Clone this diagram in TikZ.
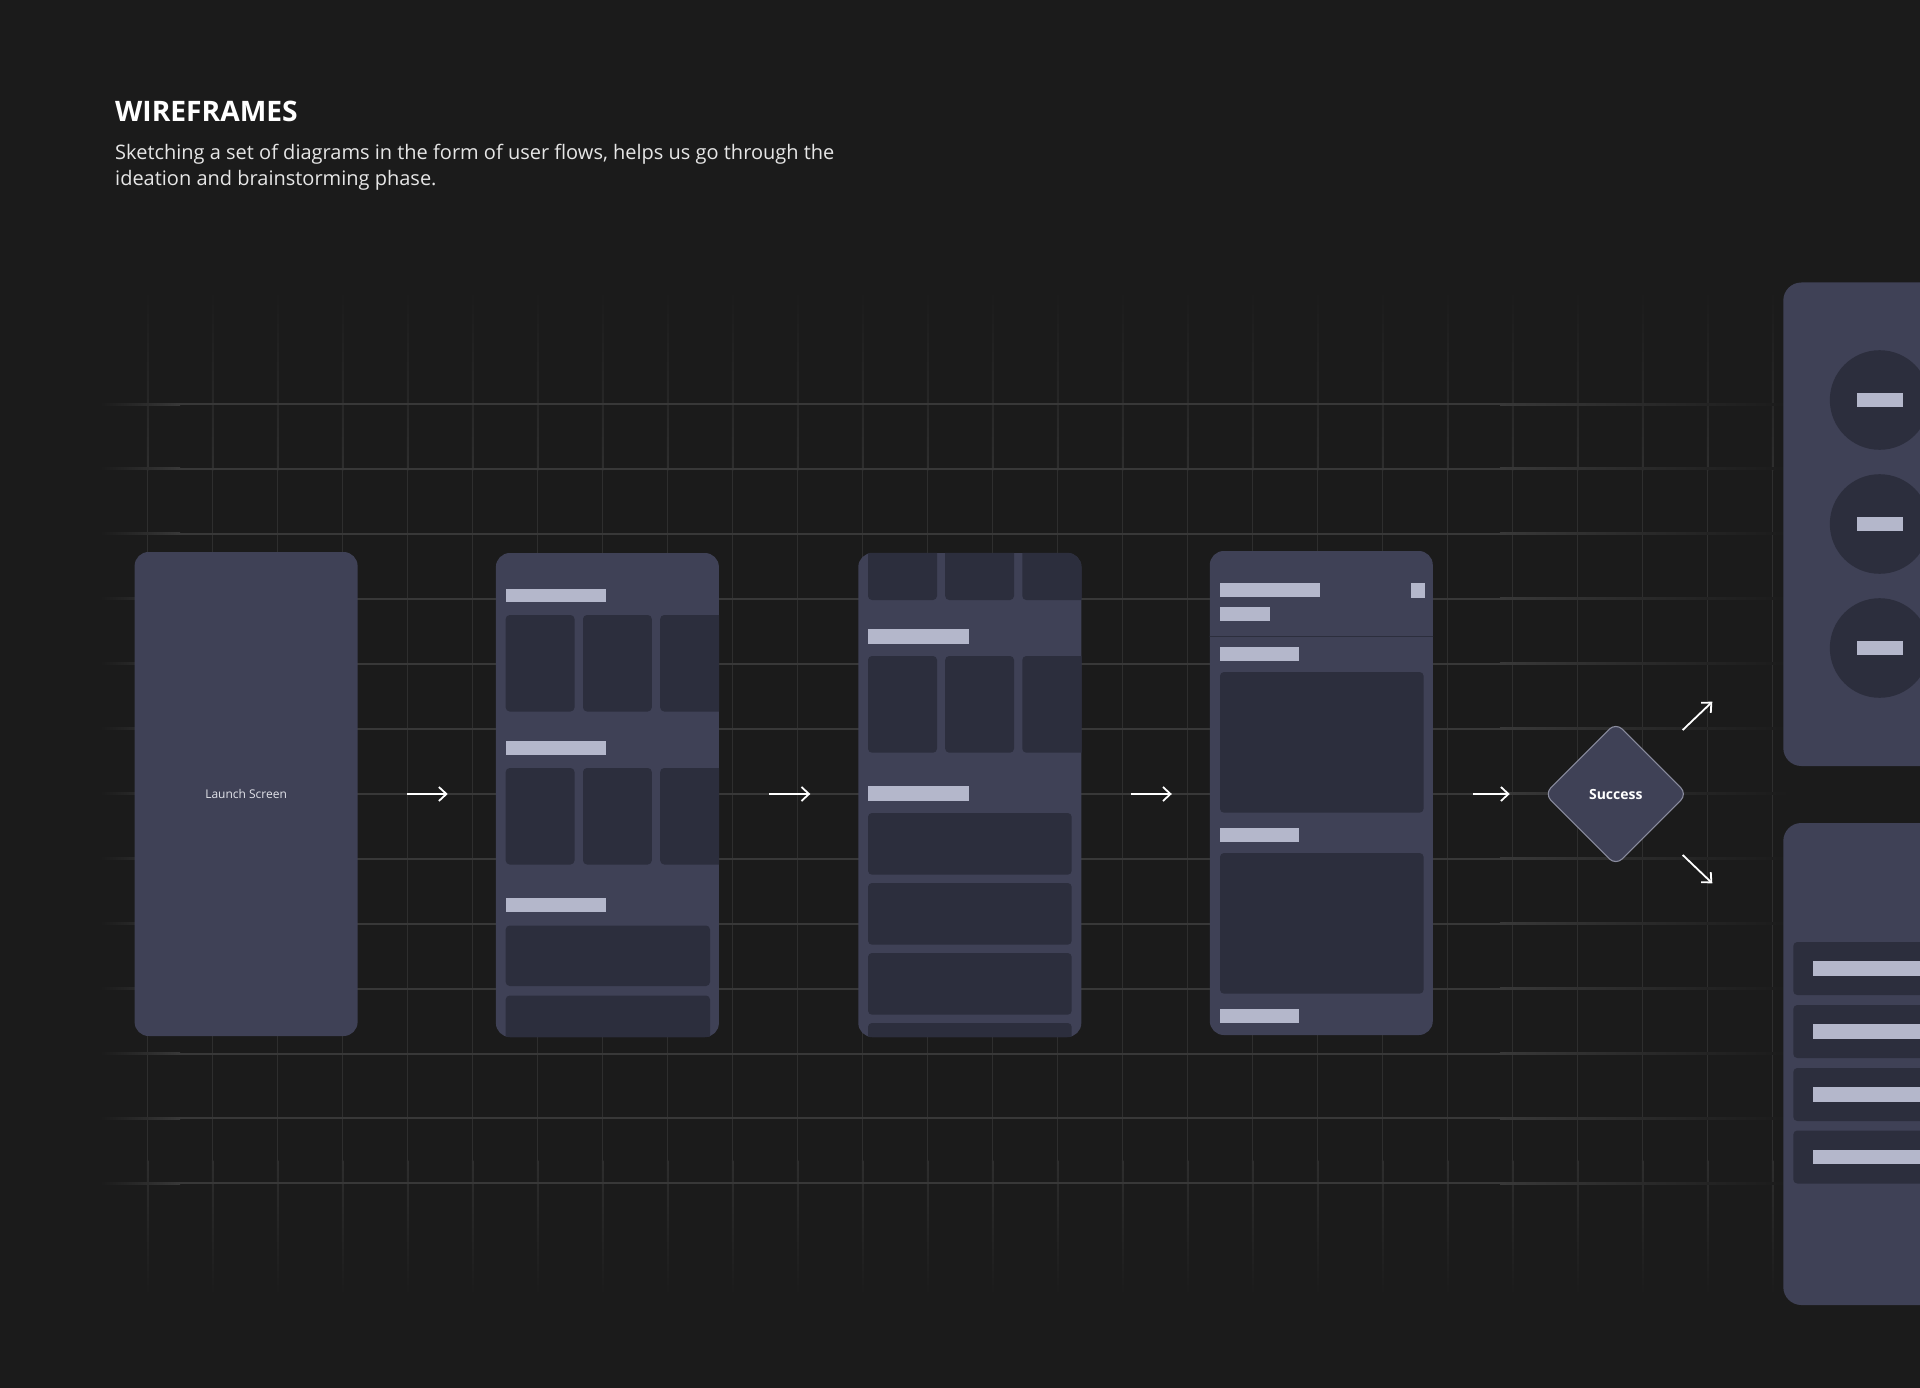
\documentclass[tikz,border=0pt]{standalone}
\usepackage{fontspec}
\setmainfont{Open Sans}
\usetikzlibrary{arrows.meta,shapes.geometric}
\definecolor{bgc}{HTML}{1B1B1B}
\definecolor{hgrid}{HTML}{383838}
\definecolor{vgrid}{HTML}{2E2E2E}
\definecolor{phonec}{HTML}{3F4156}
\definecolor{darkc}{HTML}{2C2E3D}
\definecolor{lightc}{HTML}{B4B7CB}
\definecolor{diamc}{HTML}{8A8C9E}
\definecolor{subc}{HTML}{E6E6E6}
\definecolor{launchc}{HTML}{E2E3EA}
\begin{document}
\begin{tikzpicture}[x=1pt,y=-1pt,
  phonebox/.style={rectangle, fill=phonec, rounded corners=14, minimum width=223, minimum height=484, inner sep=0},
  card/.style={fill=darkc, rounded corners=4},
  barc/.style={fill=lightc},
  flowarr/.style={draw=white, line width=1.8, -{Straight Barb[length=7.5pt,width=14pt]}},
  panelbox/.style={fill=phonec, rounded corners=18}
  ]
\useasboundingbox (0,0) rectangle (1920,1388);
\clip (0,0) rectangle (1920,1388);
\fill[bgc] (0,0) rectangle (1920,1388);

% grid: vertical lines
\foreach \k in {0,...,25}{
  \pgfmathsetmacro\xx{147.6+65.0*\k}
  \shade[top color=bgc, bottom color=vgrid] (\xx-0.75,290) rectangle (\xx+0.75,470);
  \fill[vgrid] (\xx-0.75,470) rectangle (\xx+0.75,1160);
  \shade[top color=vgrid, bottom color=bgc] (\xx-0.75,1160) rectangle (\xx+0.75,1295);
}
% grid: horizontal lines
\foreach \k in {0,...,12}{
  \pgfmathsetmacro\yy{404+64.95*\k}
  \shade[left color=bgc, right color=hgrid] (100,\yy-1) rectangle (180,\yy+1);
  \fill[hgrid] (180,\yy-1) rectangle (1500,\yy+1);
  \shade[left color=hgrid, right color=bgc] (1500,\yy-1) rectangle (1790,\yy+1);
}

% phones
\node[phonebox, font=\fontsize{12}{14}\selectfont, text=launchc] (p1) at (246.1,794) {Launch Screen};
\node[phonebox] (p2) at (607.4,795) {};
\node[phonebox] (p3) at (969.8,795) {};
\node[phonebox] (p4) at (1321.3,793) {};

% phone 2 content
\begin{scope}
\clip[rounded corners=14] (p2.north west) rectangle (p2.south east);
\fill[barc] (505.7,588.5) rectangle (606.2,601.5);
\fill[card] (505.7,615) rectangle (574.5,711.5);
\fill[card] (583,615) rectangle (651.8,711.5);
\fill[card] (660.2,615) rectangle (740,711.5);
\fill[barc] (505.7,741) rectangle (606.2,755);
\fill[card] (505.7,768) rectangle (574.5,864.5);
\fill[card] (583,768) rectangle (651.8,864.5);
\fill[card] (660.2,768) rectangle (740,864.5);
\fill[barc] (505.7,898) rectangle (606.2,912.3);
\fill[card] (505.7,925.5) rectangle (710,986);
\fill[card] (505.7,995.5) rectangle (710,1060);
\end{scope}

% phone 3 content
\begin{scope}
\clip[rounded corners=14] (p3.north west) rectangle (p3.south east);
\fill[card] (868,530) rectangle (937,600);
\fill[card] (945.2,530) rectangle (1014,600);
\fill[card] (1022.3,530) rectangle (1100,600);
\fill[barc] (868,628.7) rectangle (968.5,643.7);
\fill[card] (868,656) rectangle (937,752.7);
\fill[card] (945.2,656) rectangle (1014,752.7);
\fill[card] (1022.3,656) rectangle (1100,752.7);
\fill[barc] (868,786) rectangle (968.5,800.7);
\fill[card] (868,813) rectangle (1071.7,874.7);
\fill[card] (868,883) rectangle (1071.7,944.7);
\fill[card] (868,953) rectangle (1071.7,1014.7);
\fill[card] (868,1023) rectangle (1071.7,1080);
\end{scope}

% phone 4 content
\begin{scope}
\clip[rounded corners=14] (p4.north west) rectangle (p4.south east);
\fill[barc] (1220,582.7) rectangle (1320.4,597.3);
\fill[barc] (1410.6,583.3) rectangle (1425.2,597.7);
\fill[barc] (1220,607) rectangle (1269.8,621);
\fill[darkc] (1200,635.6) rectangle (1440,637.2);
\fill[barc] (1220,646.7) rectangle (1299,661);
\fill[card] (1220,672) rectangle (1423.6,812.7);
\fill[barc] (1220,827.7) rectangle (1299,841.7);
\fill[card] (1220,853) rectangle (1423.6,993.7);
\fill[barc] (1220,1008.7) rectangle (1299,1022.7);
\end{scope}

% decision
\node[diamond, aspect=1, minimum width=143, minimum height=143, inner sep=0,
      fill=phonec, draw=diamc, line width=1.1, rounded corners=9,
      font=\fontsize{14}{16}\selectfont\bfseries, text=white] (succ) at (1615.8,794) {Success};

% flow arrows
\draw[flowarr, shorten <=49.4, shorten >=48] (p1.east |- 0,794) -- (p2.west |- 0,794);
\draw[flowarr, shorten <=50.2, shorten >=47.8] (p2.east |- 0,794) -- (p3.west |- 0,794);
\draw[flowarr, shorten <=49.3, shorten >=37.8] (p3.east |- 0,794) -- (p4.west |- 0,794);
\draw[flowarr, shorten <=40.2, shorten >=34] (p4.east |- 0,794) -- (succ.west);
\coordinate (u1) at (1682.7,730);
\coordinate (u2) at (1712.3,701.7);
\coordinate (d1) at (1682.7,855);
\coordinate (d2) at (1712.3,883.3);
\draw[flowarr] (u1) -- (u2);
\draw[flowarr] (d1) -- (d2);

% right panels
\fill[panelbox] (1783.3,282.5) rectangle (1960,766);
\foreach \cy in {400,524,648}{
  \fill[darkc] (1879.6,\cy) circle[radius=49.8];
  \fill[barc] (1857,\cy-7) rectangle (1903,\cy+7);
}
\fill[panelbox] (1783.3,823) rectangle (1960,1305);
\foreach \ry in {942,1005,1068,1130.5}{
  \fill[card] (1793.3,\ry) rectangle (1960,\ry+53);
  \fill[barc] (1812.5,\ry+19) rectangle (1960,\ry+33.5);
}

% texts
\node[anchor=base west, inner sep=0, font=\fontsize{28.2}{34}\selectfont\bfseries, text=white] (title) at (115,122) {WIREFRAMES};
\node[anchor=base west, inner sep=0, font=\fontsize{20}{26}\selectfont, text=subc] (sub1) at (115,160) {Sketching a set of diagrams in the form of user flows, helps us go through the};
\node[anchor=base west, inner sep=0, font=\fontsize{20}{26}\selectfont, text=subc] (sub2) at (115,186) {ideation and brainstorming phase.};
\end{tikzpicture}
\end{document}
